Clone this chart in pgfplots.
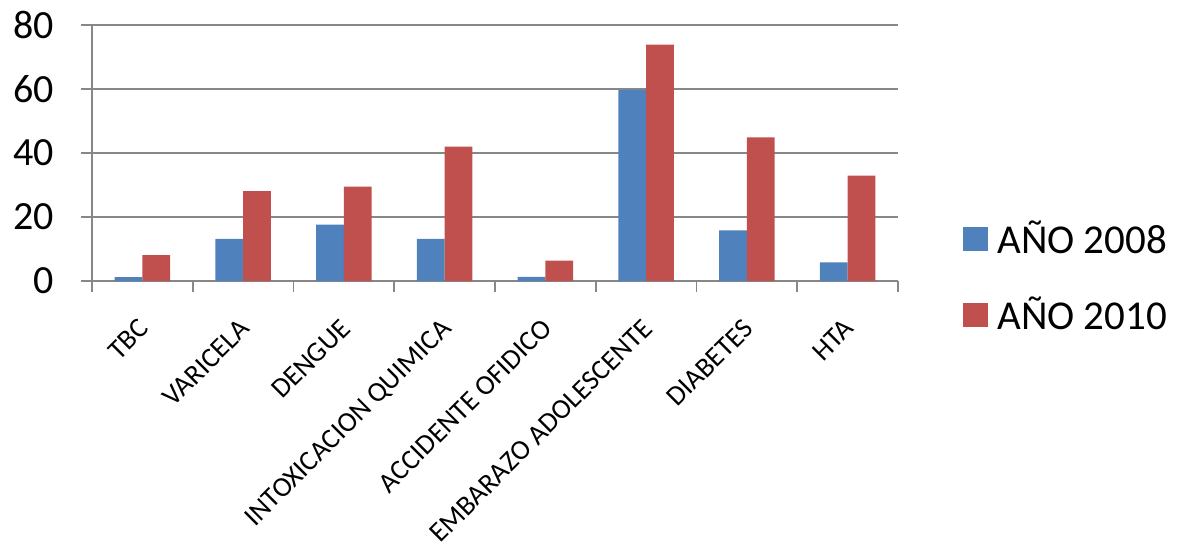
\documentclass[border=0pt]{standalone}
\usepackage{pgfplots}
\pgfplotsset{compat=1.18}
\usepackage{fontspec}
\setmainfont{Carlito}
\definecolor{xblue}{HTML}{4F81BD}
\definecolor{xred}{HTML}{C0504D}
\definecolor{xgrid}{HTML}{878787}
\begin{document}
\begin{tikzpicture}
\useasboundingbox (-46pt,-131pt) rectangle (542.5pt,140.5pt);
\begin{axis}[
  at={(0pt,0pt)}, anchor=south west,
  scale only axis, width=403pt, height=128pt,
  ymin=0, ymax=80, ytick={0,20,40,60,80},
  xmin=0.5, xmax=8.5,
  xtick={0.5,1.5,...,8.5},
  xticklabels={TBC,VARICELA,DENGUE,INTOXICACION QUIMICA,ACCIDENTE OFIDICO,EMBARAZO ADOLESCENTE,DIABETES,HTA,{}},
  x tick label style={xshift=22.7pt, yshift=-12.5pt, rotate=45, anchor=north east, font=\fontsize{14}{16}\selectfont, inner sep=0pt},
  y tick label style={font=\fontsize{20}{22}\selectfont, anchor=east, xshift=-10pt},
  /pgf/number format/assume math mode=true,
  axis x line*=bottom, axis y line*=left,
  axis line style={xgrid, line width=0.9pt, -},
  ymajorgrids, grid style={xgrid, line width=0.9pt},
  tick style={xgrid, line width=0.9pt},
  tick align=outside,
  major tick length=5.5pt,
  ybar=0pt, bar width=13.9pt,
  legend style={at={(1.0806,0.016)}, anchor=west, draw=none, fill=none, inner sep=0pt, font=\fontsize{20.5}{22}\selectfont, row sep=16pt, nodes={inner xsep=4.5pt}},
  legend cell align=left,
  legend image code/.code={\fill[#1] (0pt,-6pt) rectangle (12.5pt,6pt);},
]
\addplot[fill=xblue, draw=none] coordinates {(1,1.2) (2,13.2) (3,17.6) (4,13.2) (5,1.3) (6,59.7) (7,15.8) (8,5.8)};
\addplot[fill=xred, draw=none] coordinates {(1,8.1) (2,28.1) (3,29.5) (4,42) (5,6.4) (6,73.9) (7,44.9) (8,32.9)};
\legend{AÑO 2008, AÑO 2010}
\end{axis}
\end{tikzpicture}
\end{document}
